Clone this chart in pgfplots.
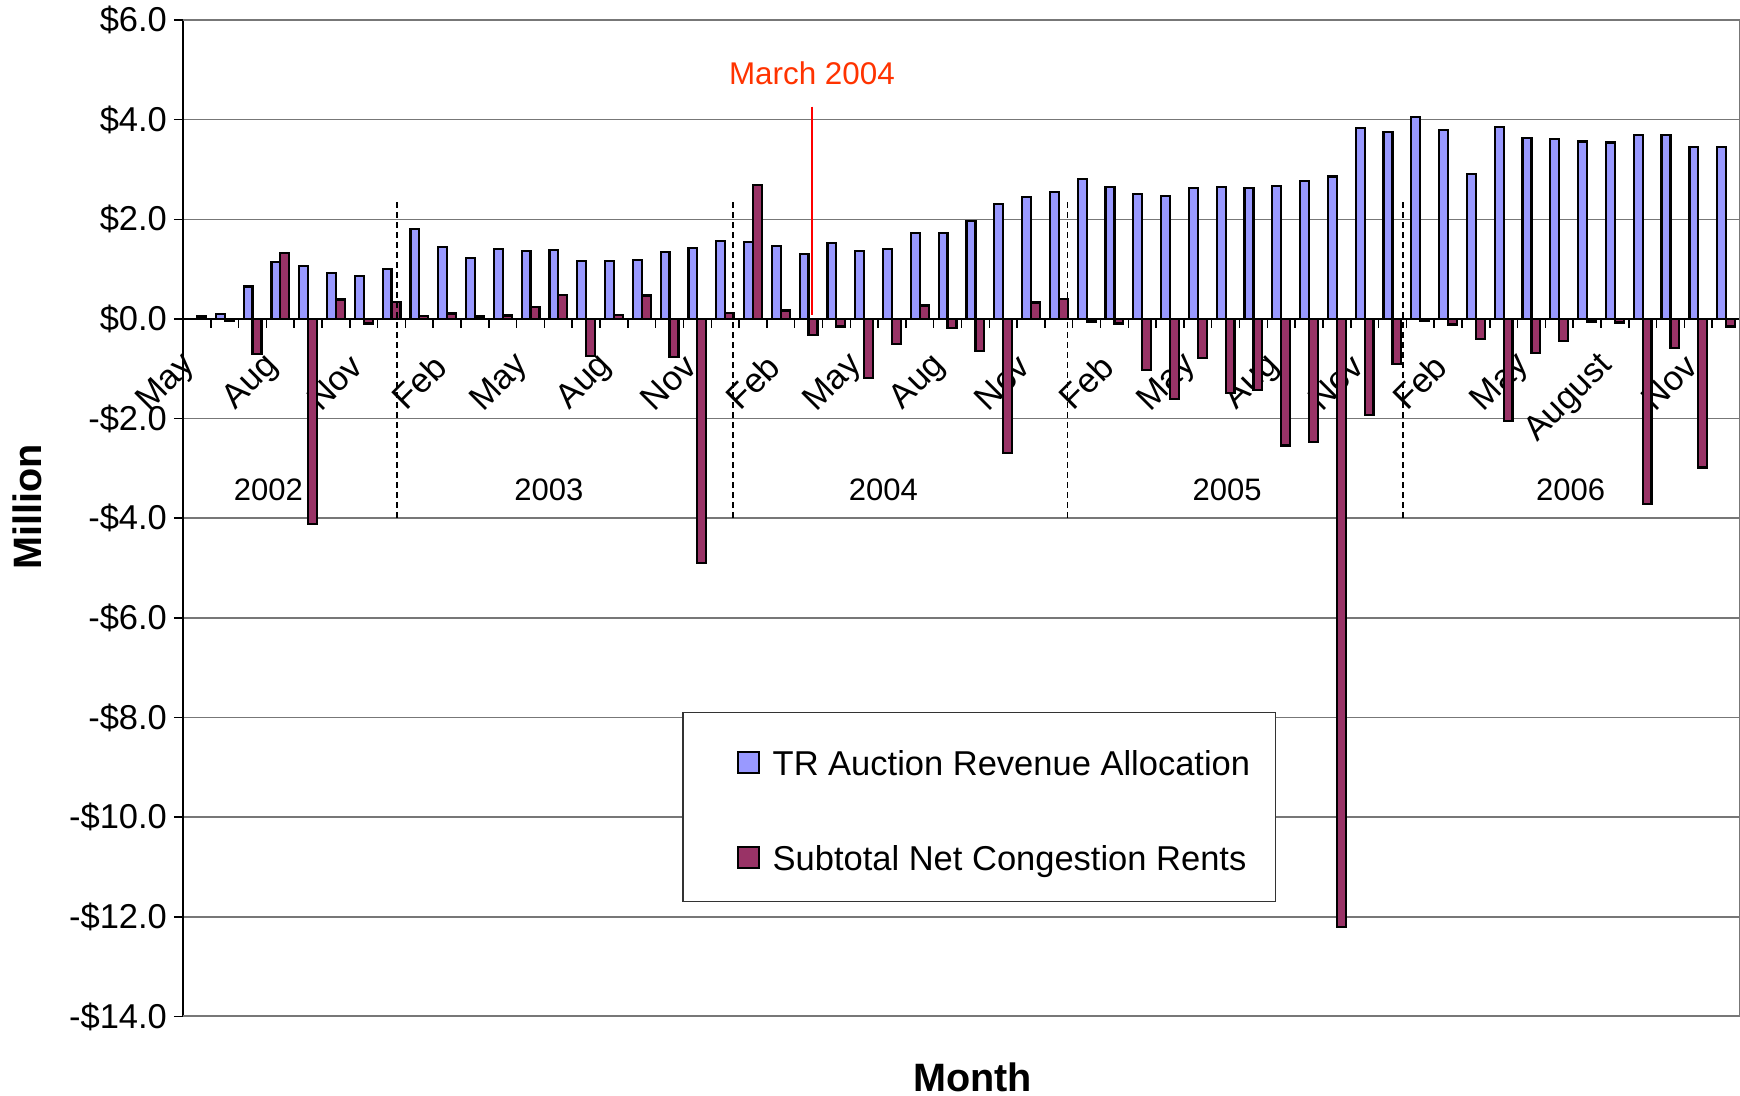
\documentclass[border=0pt]{standalone}
\usepackage{pgfplots}
\pgfplotsset{compat=1.18}
\usepackage{pgfplotstable}
\usepackage{fontspec}
\setmainfont{Liberation Sans}
\definecolor{trblue}{HTML}{9999FF}
\definecolor{ncrred}{HTML}{993366}
\definecolor{gridgray}{HTML}{777777}
\definecolor{annot}{HTML}{FF3300}

\pgfplotstableread{
i tr ncr
0 0.00 0.05
1 0.10 -0.03
2 0.65 -0.70
3 1.14 1.33
4 1.07 -4.11
5 0.93 0.39
6 0.86 -0.09
7 1.01 0.34
8 1.81 0.06
9 1.44 0.11
10 1.23 0.05
11 1.41 0.07
12 1.37 0.24
13 1.38 0.48
14 1.16 -0.74
15 1.16 0.08
16 1.18 0.47
17 1.34 -0.77
18 1.42 -4.90
19 1.57 0.12
20 1.55 2.69
21 1.46 0.17
22 1.30 -0.33
23 1.53 -0.15
24 1.36 -1.18
25 1.41 -0.50
26 1.73 0.27
27 1.73 -0.18
28 1.96 -0.64
29 2.31 -2.69
30 2.45 0.33
31 2.55 0.40
32 2.81 -0.05
33 2.65 -0.09
34 2.50 -1.03
35 2.47 -1.60
36 2.62 -0.79
37 2.65 -1.49
38 2.62 -1.43
39 2.67 -2.54
40 2.77 -2.47
41 2.86 -12.20
42 3.83 -1.92
43 3.75 -0.91
44 4.05 -0.03
45 3.79 -0.11
46 2.91 -0.41
47 3.85 -2.05
48 3.63 -0.69
49 3.61 -0.45
50 3.56 -0.05
51 3.54 -0.07
52 3.69 -3.71
53 3.69 -0.59
54 3.45 -2.98
55 3.45 -0.15
}\datatable

\begin{document}
\begin{tikzpicture}
\begin{axis}[
  scale only axis,
  width=778.5pt, height=498.25pt,
  xmin=-0.5, xmax=55.5, ymin=-14, ymax=6,
  axis x line*=middle, axis y line*=left,
  x axis line style={black, line width=0.75pt},
  y axis line style={black, line width=0.75pt},
  xtick={-0.5,0.5,...,55.5},
  xticklabels={},
  xtick align=outside,
  ytick align=outside,
  major tick length=4.5pt,
  tick style={black, line width=0.75pt},
  ytick={-14,-12,...,6},
  yticklabels={-\$14.0,-\$12.0,-\$10.0,-\$8.0,-\$6.0,-\$4.0,-\$2.0,\$0.0,\$2.0,\$4.0,\$6.0},
  yticklabel style={font=\fontsize{17.25}{20}\selectfont},
  ymajorgrids,
  grid style={gridgray, line width=0.75pt},
  extra x ticks={0,3,...,54},
  extra x tick labels={May,Aug,Nov,Feb,May,Aug,Nov,Feb,May,Aug,Nov,Feb,May,Aug,Nov,Feb,May,August,Nov},
  extra x tick style={major tick length=0pt, xticklabel style={xshift=-3.5pt, yshift=-20.8pt, rotate=45, anchor=east, inner sep=0pt, font=\fontsize{17.25}{20}\selectfont}},
  xlabel={Month}, ylabel={Million},
  xlabel style={font=\bfseries\fontsize{19.8}{22}\selectfont, at={(axis description cs:0.507,-0.0612)}, anchor=center},
  ylabel style={font=\bfseries\fontsize{19.8}{22}\selectfont, at={(axis description cs:-0.0997,0.511)}, anchor=center},
  legend cell align=left,
  legend style={at={(axis description cs:0.3208,0.3056)}, anchor=north west,
    draw=black!80, line width=0.6pt, fill=white,
    font=\fontsize{17.25}{20}\selectfont,
    inner xsep=12.75pt, inner ysep=13.35pt, row sep=27.8pt, column sep=6.5pt,
    nodes={inner sep=0pt, text height=18.07pt, text depth=1.83pt}},
]
\addplot[ybar, bar width=0.32, bar shift=0pt, fill=trblue, draw=black, line width=1.1pt,
  legend image code/.code={\path (-15pt,0pt); \draw[fill=trblue, draw=black, line width=1pt] (-1pt,-6.92pt) rectangle (9.5pt,3.58pt);}]
  table[x expr=\thisrow{i}-0.16, y=tr] {\datatable};
\addlegendentry{TR Auction Revenue Allocation}
\addplot[ybar, bar width=0.32, bar shift=0pt, fill=ncrred, draw=black, line width=1.1pt,
  legend image code/.code={\path (-15pt,0pt); \draw[fill=ncrred, draw=black, line width=1pt] (-1pt,-6.92pt) rectangle (9.5pt,3.58pt);}]
  table[x expr=\thisrow{i}+0.16, y=ncr] {\datatable};
\addlegendentry{Subtotal Net Congestion Rents}

\draw[gridgray, line width=1pt] (rel axis cs:0,1) -- (rel axis cs:1,1) -- (rel axis cs:1,0) -- (rel axis cs:0,0);
\draw[black, line width=0.9pt, dash pattern=on 3pt off 2pt] (axis cs:7.2,2.34) -- (axis cs:7.2,-4);
\draw[black, line width=0.9pt, dash pattern=on 3pt off 2pt] (axis cs:19.27,2.34) -- (axis cs:19.27,-4);
\draw[black, line width=0.9pt, dash pattern=on 3pt off 2pt] (axis cs:31.31,2.34) -- (axis cs:31.31,-4);
\draw[black, line width=0.9pt, dash pattern=on 3pt off 2pt] (axis cs:43.39,2.34) -- (axis cs:43.39,-4);
\node[font=\fontsize{15.5}{18}\selectfont] at (axis cs:2.57,-3.43) {2002};
\node[font=\fontsize{15.5}{18}\selectfont] at (axis cs:12.66,-3.43) {2003};
\node[font=\fontsize{15.5}{18}\selectfont] at (axis cs:24.69,-3.43) {2004};
\node[font=\fontsize{15.5}{18}\selectfont] at (axis cs:37.05,-3.43) {2005};
\node[font=\fontsize{15.5}{18}\selectfont] at (axis cs:49.41,-3.43) {2006};
\draw[red, line width=1pt] (axis cs:22.14,4.26) -- (axis cs:22.14,0.07);
\node[font=\fontsize{15.7}{18}\selectfont, text=annot] at (axis cs:22.12,4.93) {March 2004};
\coordinate (SW) at (rel axis cs:0,0);
\end{axis}
\pgfresetboundingbox
\path[use as bounding box] (SW) ++(-91.5pt,-39.75pt) rectangle ++(870pt,548pt);
\end{tikzpicture}
\end{document}
